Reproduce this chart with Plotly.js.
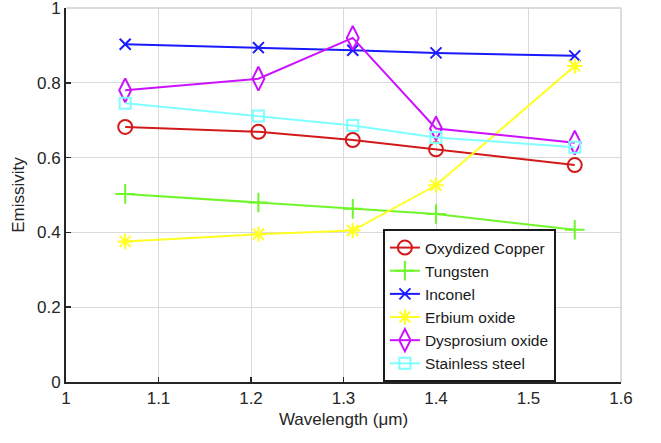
<!DOCTYPE html>
<html>
<head>
<meta charset="utf-8">
<script src="https://cdn.plot.ly/plotly-3.0.1.min.js"></script>
<style>html,body{margin:0;padding:0;background:#fff;}#chart{width:661px;height:443px;}</style>
</head>
<body>
<div id="chart"></div>
<script>
const wavelength = [1.064, 1.208, 1.31, 1.40, 1.55];
const seriesNames = ["Oxydized Copper", "Tungsten", "Inconel", "Erbium oxide", "Dysprosium oxide", "Stainless steel"];
const oxydizedCopper = [0.682, 0.669, 0.647, 0.622, 0.580];
const tungsten = [0.503, 0.480, 0.463, 0.449, 0.407];
const inconel = [0.903, 0.894, 0.887, 0.880, 0.872];
const erbiumOxide = [0.376, 0.395, 0.405, 0.526, 0.845];
const dysprosiumOxide = [0.780, 0.811, 0.920, 0.678, 0.640];
const stainlessSteel = [0.745, 0.711, 0.686, 0.654, 0.628];
const xTicks = [1, 1.1, 1.2, 1.3, 1.4, 1.5, 1.6];
const yTicks = [0, 0.2, 0.4, 0.6, 0.8, 1];

const colors = ["#d21a1a", "#70f52a", "#1a1aff", "#ffff22", "#cc11ff", "#80ffff"];
const symbols = ["circle-open", "cross-thin-open", "x-thin-open", "asterisk-open", "diamond-tall-open", "square-open"];
const sizes = [14, 14, 11, 13, 17, 11];
const values = [oxydizedCopper, tungsten, inconel, erbiumOxide, dysprosiumOxide, stainlessSteel];

const traces = values.map((v, i) => ({
  x: wavelength, y: v, name: seriesNames[i], type: "scatter", mode: "lines+markers",
  line: {color: colors[i], width: 2},
  marker: {symbol: symbols[i], size: sizes[i], color: colors[i], line: {color: colors[i], width: 2}}
}));

const font = {family: "Liberation Sans, Arial, sans-serif", size: 17, color: "#262626"};
const layout = {
  width: 661, height: 443,
  margin: {l: 66, r: 40, t: 8, b: 61},
  paper_bgcolor: "#fff", plot_bgcolor: "#fff",
  font: font,
  showlegend: true,
  xaxis: {
    range: [1, 1.6], tickvals: xTicks, ticktext: xTicks.map(String),
    showgrid: true, gridcolor: "#dadada", gridwidth: 1,
    showline: true, linecolor: "#262626", linewidth: 2,
    ticks: "inside", ticklen: 5, tickcolor: "#262626", tickwidth: 1.5,
    tickfont: font, ticklabeloverflow: "allow",
    zeroline: false, title: {text: "Wavelength (μm)", font: font, standoff: 6}
  },
  yaxis: {
    range: [0, 1], tickvals: yTicks, ticktext: yTicks.map(String),
    showgrid: true, gridcolor: "#dadada", gridwidth: 1,
    showline: true, linecolor: "#262626", linewidth: 2,
    ticks: "inside", ticklen: 5, tickcolor: "#262626", tickwidth: 1.5,
    tickfont: font, ticklabeloverflow: "allow",
    zeroline: false, title: {text: "Emissivity", font: font, standoff: 8}
  },
  shapes: [
    {type: "line", xref: "paper", yref: "paper", x0: 0, x1: 1, y0: 1, y1: 1, line: {color: "#d0d0d0", width: 1.5}},
    {type: "line", xref: "paper", yref: "paper", x0: 1, x1: 1, y0: 0, y1: 1, line: {color: "#d0d0d0", width: 1.5}}
  ],
  legend: {
    x: 0.571, y: 0, xanchor: "left", yanchor: "bottom",
    bgcolor: "#fff", bordercolor: "#1a1a1a", borderwidth: 2,
    font: {family: "Liberation Sans, Arial, sans-serif", size: 15.5, color: "#1a1a1a"},
    tracegroupgap: 0, itemwidth: 30
  }
};
Plotly.newPlot("chart", traces, layout, {displayModeBar: false, staticPlot: true});
</script>
</body>
</html>
